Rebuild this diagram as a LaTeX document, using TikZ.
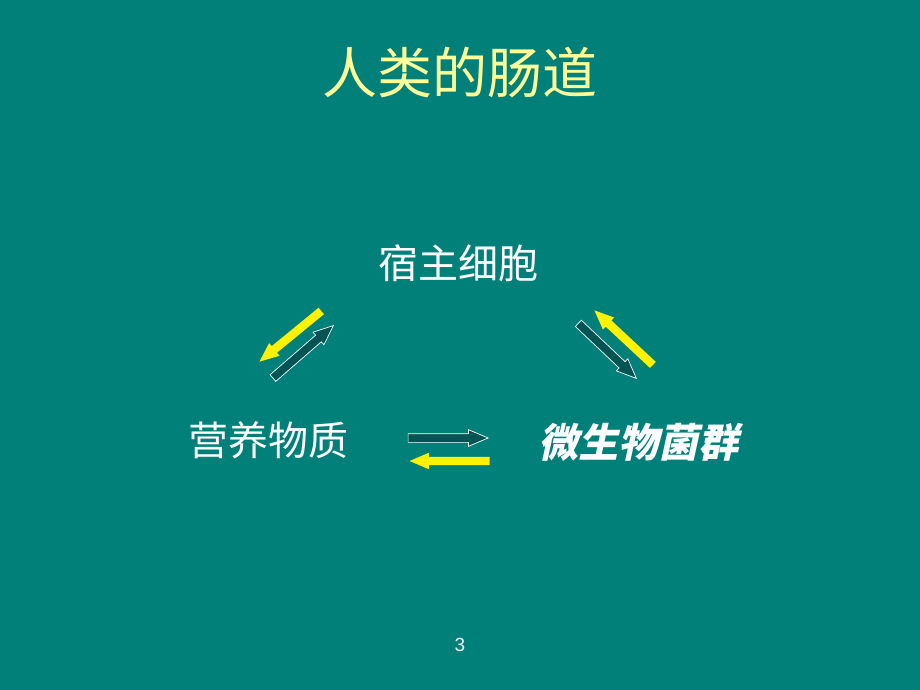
\documentclass[tikz,border=0pt]{standalone}
\usepackage{fontspec}
\usepackage{xcolor}
\usetikzlibrary{shapes,arrows,positioning,calc}
\setmainfont{Liberation Sans}
\newfontfamily\cjk{Noto Sans CJK SC}
\newfontfamily\cjkslant[FakeSlant=0.22]{Noto Sans CJK SC}
\definecolor{bgteal}{RGB}{0,128,120}
\definecolor{titleyellow}{RGB}{255,255,153}
\definecolor{darkteal}{RGB}{0,84,84}

\begin{document}
\begin{tikzpicture}[x=1pt, y=-1pt,
    cjktext/.style={text=white, inner sep=0pt, font=\cjk\fontsize{40}{40}\selectfont},
    blockarrow/.style={single arrow, at end, anchor=tip, sloped, allow upside down, minimum height=80pt,
        inner sep=4pt, single arrow head extend=4pt, single arrow tip angle=46},
    yellowarrow/.style={blockarrow, fill=yellow, draw=none},
    darkarrow/.style={blockarrow, fill=darkteal, draw=white, line width=0.7pt}]
    \fill[bgteal] (0,0) rectangle (920,690);

    \node[text=titleyellow, inner sep=0pt, font=\cjk\fontsize{55}{55}\selectfont] (title) at (460,72) {人类的肠道};
    \node[cjktext] (host) at (458,263) {宿主细胞};
    \node[cjktext] (food) at (268,440) {营养物质};
    \node[cjktext, font=\cjkslant\bfseries\fontsize{40}{40}\selectfont] (flora) at (638,442) {微生物菌群};
    \node[text=white!90!gray, inner sep=0pt, font=\fontsize{19}{19}\selectfont] (pagenum) at (460,645) {3};

    % host <-> food
    \coordinate (hfA) at (320,312); \coordinate (hfB) at (259,362);
    \coordinate (fhA) at (273,378); \coordinate (fhB) at (334,325);
    \path (hfA) -- node[yellowarrow] (hf) {} (hfB);
    \path (fhA) -- node[darkarrow] (fh) {} (fhB);

    % flora <-> host
    \coordinate (ghA) at (653,365); \coordinate (ghB) at (594,310);
    \coordinate (hgA) at (578,323); \coordinate (hgB) at (637,379);
    \path (ghA) -- node[yellowarrow] (gh) {} (ghB);
    \path (hgA) -- node[darkarrow] (hg) {} (hgB);

    % food <-> flora
    \coordinate (fgA) at (409,438); \coordinate (fgB) at (489,438);
    \coordinate (gfA) at (489,461); \coordinate (gfB) at (409,461);
    \path (fgA) -- node[darkarrow] (fg) {} (fgB);
    \path (gfA) -- node[yellowarrow] (gf) {} (gfB);
\end{tikzpicture}
\end{document}
